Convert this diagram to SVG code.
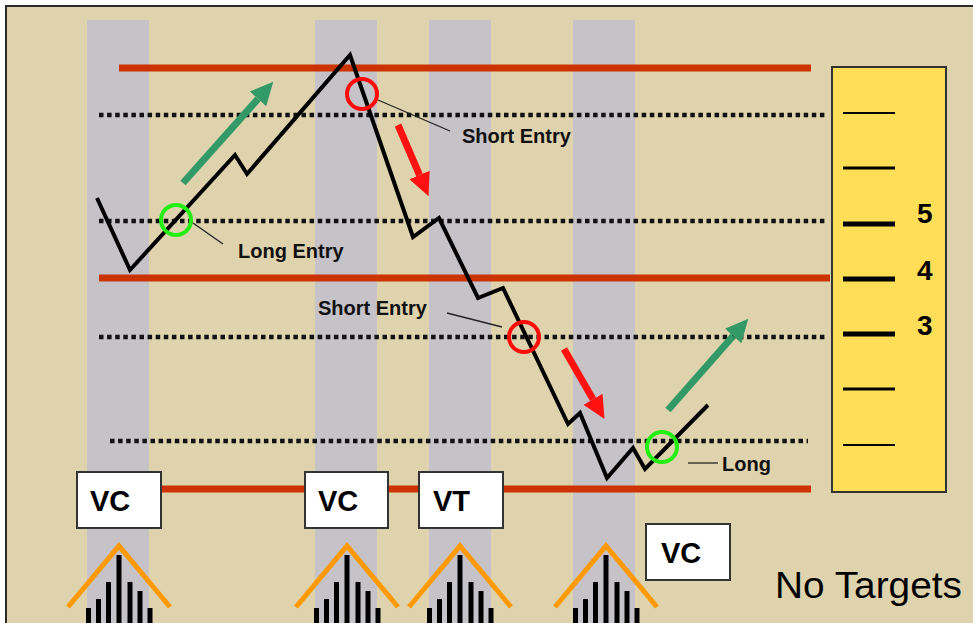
<svg xmlns="http://www.w3.org/2000/svg" width="973" height="623" viewBox="0 0 973 623">
  <defs>
    <style>
      .col { fill: #C5C2C8; }
      .res { stroke: #CC3300; stroke-width: 7; fill: none; }
      .dot { stroke: #111; stroke-width: 4.5; stroke-dasharray: 4.5 3.6; fill: none; }
      .price { stroke: #000; stroke-width: 4; fill: none; stroke-linejoin: miter; }
      .ring-g { stroke: #22EE11; stroke-width: 4; fill: none; }
      .ring-r { stroke: #FF0A0A; stroke-width: 4; fill: none; }
      .leader { stroke: #222; stroke-width: 1.3; fill: none; }
      .lbl { font-family: "Liberation Sans", Arial, sans-serif; font-weight: bold; font-size: 20px; fill: #111; }
      .box { fill: #fff; stroke: #333; stroke-width: 2; }
      .boxt { font-family: "Liberation Sans", Arial, sans-serif; font-weight: bold; font-size: 29px; fill: #000; }
      .garrow { stroke: #339966; stroke-width: 7; fill: none; }
      .rarrow { stroke: #FF1111; stroke-width: 7; fill: none; }
      .roof { stroke: #FF9900; stroke-width: 5; fill: none; stroke-linejoin: miter; }
      .bar { fill: #000; }
      .tick { stroke: #000; fill: none; }
      .num { font-family: "Liberation Sans", Arial, sans-serif; font-weight: bold; font-size: 28px; fill: #000; }
    </style>
    <marker id="hg" markerUnits="userSpaceOnUse" markerWidth="24" markerHeight="24" refX="0" refY="11" orient="auto" viewBox="0 0 24 22">
      <path d="M0,0 L23,11 L0,22 z" fill="#339966"/>
    </marker>
    <marker id="hr" markerUnits="userSpaceOnUse" markerWidth="24" markerHeight="24" refX="0" refY="11" orient="auto" viewBox="0 0 24 22">
      <path d="M0,0 L23,11 L0,22 z" fill="#FF1111"/>
    </marker>
    <g id="vol">
      <rect class="bar" x="-33" y="608" width="5" height="20"/>
      <rect class="bar" x="-23" y="599" width="5" height="30"/>
      <rect class="bar" x="-13" y="582" width="5" height="45"/>
      <rect class="bar" x="-2.5" y="555" width="5" height="70"/>
      <rect class="bar" x="8.5" y="582" width="5" height="45"/>
      <rect class="bar" x="18.5" y="591" width="5" height="35"/>
      <rect class="bar" x="28.5" y="608" width="5" height="20"/>
      <polyline class="roof" points="-51,607 0,546 51,607"/>
    </g>
  </defs>

  <rect x="0" y="0" width="973" height="623" fill="#fff"/>
  <rect x="6" y="6" width="990" height="640" fill="#DFD3AE" stroke="#2a2a2a" stroke-width="2"/>

  <g id="columns">
    <rect class="col" x="87" y="20" width="62" height="610"/>
    <rect class="col" x="315" y="20" width="62" height="610"/>
    <rect class="col" x="429" y="20" width="62" height="610"/>
    <rect class="col" x="573" y="20" width="62" height="610"/>
  </g>

  <g id="levels">
    <line class="res" x1="119" y1="68" x2="811" y2="68"/>
    <line class="res" x1="99" y1="278" x2="830" y2="278"/>
    <line class="res" x1="120" y1="489" x2="811" y2="489"/>
    <line class="dot" x1="99" y1="115" x2="828" y2="115"/>
    <line class="dot" x1="99" y1="221" x2="828" y2="221"/>
    <line class="dot" x1="99" y1="337" x2="828" y2="337"/>
    <line class="dot" x1="110" y1="441" x2="808" y2="441"/>
  </g>

  <g id="price">
    <polyline class="price" points="97,198 130,270 235,155 247,174 350,55 413,237 439,218 478,298 503,288 568,424 580,413 607,478 633,448 645,469 708,405"/>
  </g>

  <g id="connectors">
    <line class="garrow" x1="183" y1="183" x2="258" y2="98.9" marker-end="url(#hg)"/>
    <line class="rarrow" x1="398" y1="125" x2="419.5" y2="175" marker-end="url(#hr)"/>
    <line class="rarrow" x1="564" y1="349" x2="593" y2="399.2" marker-end="url(#hr)"/>
    <line class="garrow" x1="668" y1="410" x2="733.1" y2="336" marker-end="url(#hg)"/>
    <line class="leader" x1="193" y1="223" x2="223" y2="244"/>
    <line class="leader" x1="378" y1="100" x2="450" y2="131"/>
    <line class="leader" x1="447" y1="313" x2="502" y2="327"/>
    <line class="leader" x1="688" y1="463" x2="718" y2="463"/>
  </g>

  <g id="long-entry">
    <circle class="ring-g" cx="176" cy="220" r="15"/>
    <text class="lbl" x="238" y="258">Long Entry</text>
  </g>
  <g id="short-entry-1">
    <circle class="ring-r" cx="362" cy="94" r="15"/>
    <text class="lbl" x="462" y="143">Short Entry</text>
  </g>
  <g id="short-entry-2">
    <circle class="ring-r" cx="524" cy="337" r="15"/>
    <text class="lbl" x="318" y="315">Short Entry</text>
  </g>
  <g id="long-2">
    <circle class="ring-g" cx="662" cy="447" r="15"/>
    <text class="lbl" x="722" y="471">Long</text>
  </g>

  <g id="box-vc-1">
    <rect class="box" x="77" y="472" width="84" height="56"/>
    <text class="boxt" x="90" y="511">VC</text>
  </g>
  <g id="box-vc-2">
    <rect class="box" x="305" y="472" width="83" height="56"/>
    <text class="boxt" x="318" y="511">VC</text>
  </g>
  <g id="box-vt">
    <rect class="box" x="419" y="472" width="84" height="56"/>
    <text class="boxt" x="433" y="511">VT</text>
  </g>
  <g id="box-vc-3">
    <rect class="box" x="646" y="524" width="84" height="56"/>
    <text class="boxt" x="661" y="563">VC</text>
  </g>

  <g id="volume-1"><use href="#vol" x="119"/></g>
  <g id="volume-2"><use href="#vol" x="347"/></g>
  <g id="volume-3"><use href="#vol" x="460"/></g>
  <g id="volume-4"><use href="#vol" x="606"/></g>

  <g id="scale">
    <rect x="832" y="67" width="114" height="425" fill="#FFDE57" stroke="#333" stroke-width="2"/>
    <line class="tick" x1="843" y1="113" x2="895" y2="113" stroke-width="2"/>
    <line class="tick" x1="843" y1="168" x2="895" y2="168" stroke-width="3"/>
    <line class="tick" x1="843" y1="224" x2="895" y2="224" stroke-width="5"/>
    <line class="tick" x1="843" y1="279" x2="895" y2="279" stroke-width="5"/>
    <line class="tick" x1="843" y1="334" x2="895" y2="334" stroke-width="5"/>
    <line class="tick" x1="843" y1="389" x2="895" y2="389" stroke-width="3"/>
    <line class="tick" x1="843" y1="445" x2="895" y2="445" stroke-width="2"/>
    <text class="num" x="917" y="223">5</text>
    <text class="num" x="917" y="280">4</text>
    <text class="num" x="917" y="335">3</text>
  </g>

  <g id="no-targets">
    <text x="775" y="598" font-family="Liberation Sans, Arial, sans-serif" font-size="37" fill="#000" textLength="187" lengthAdjust="spacingAndGlyphs">No Targets</text>
  </g>
</svg>
